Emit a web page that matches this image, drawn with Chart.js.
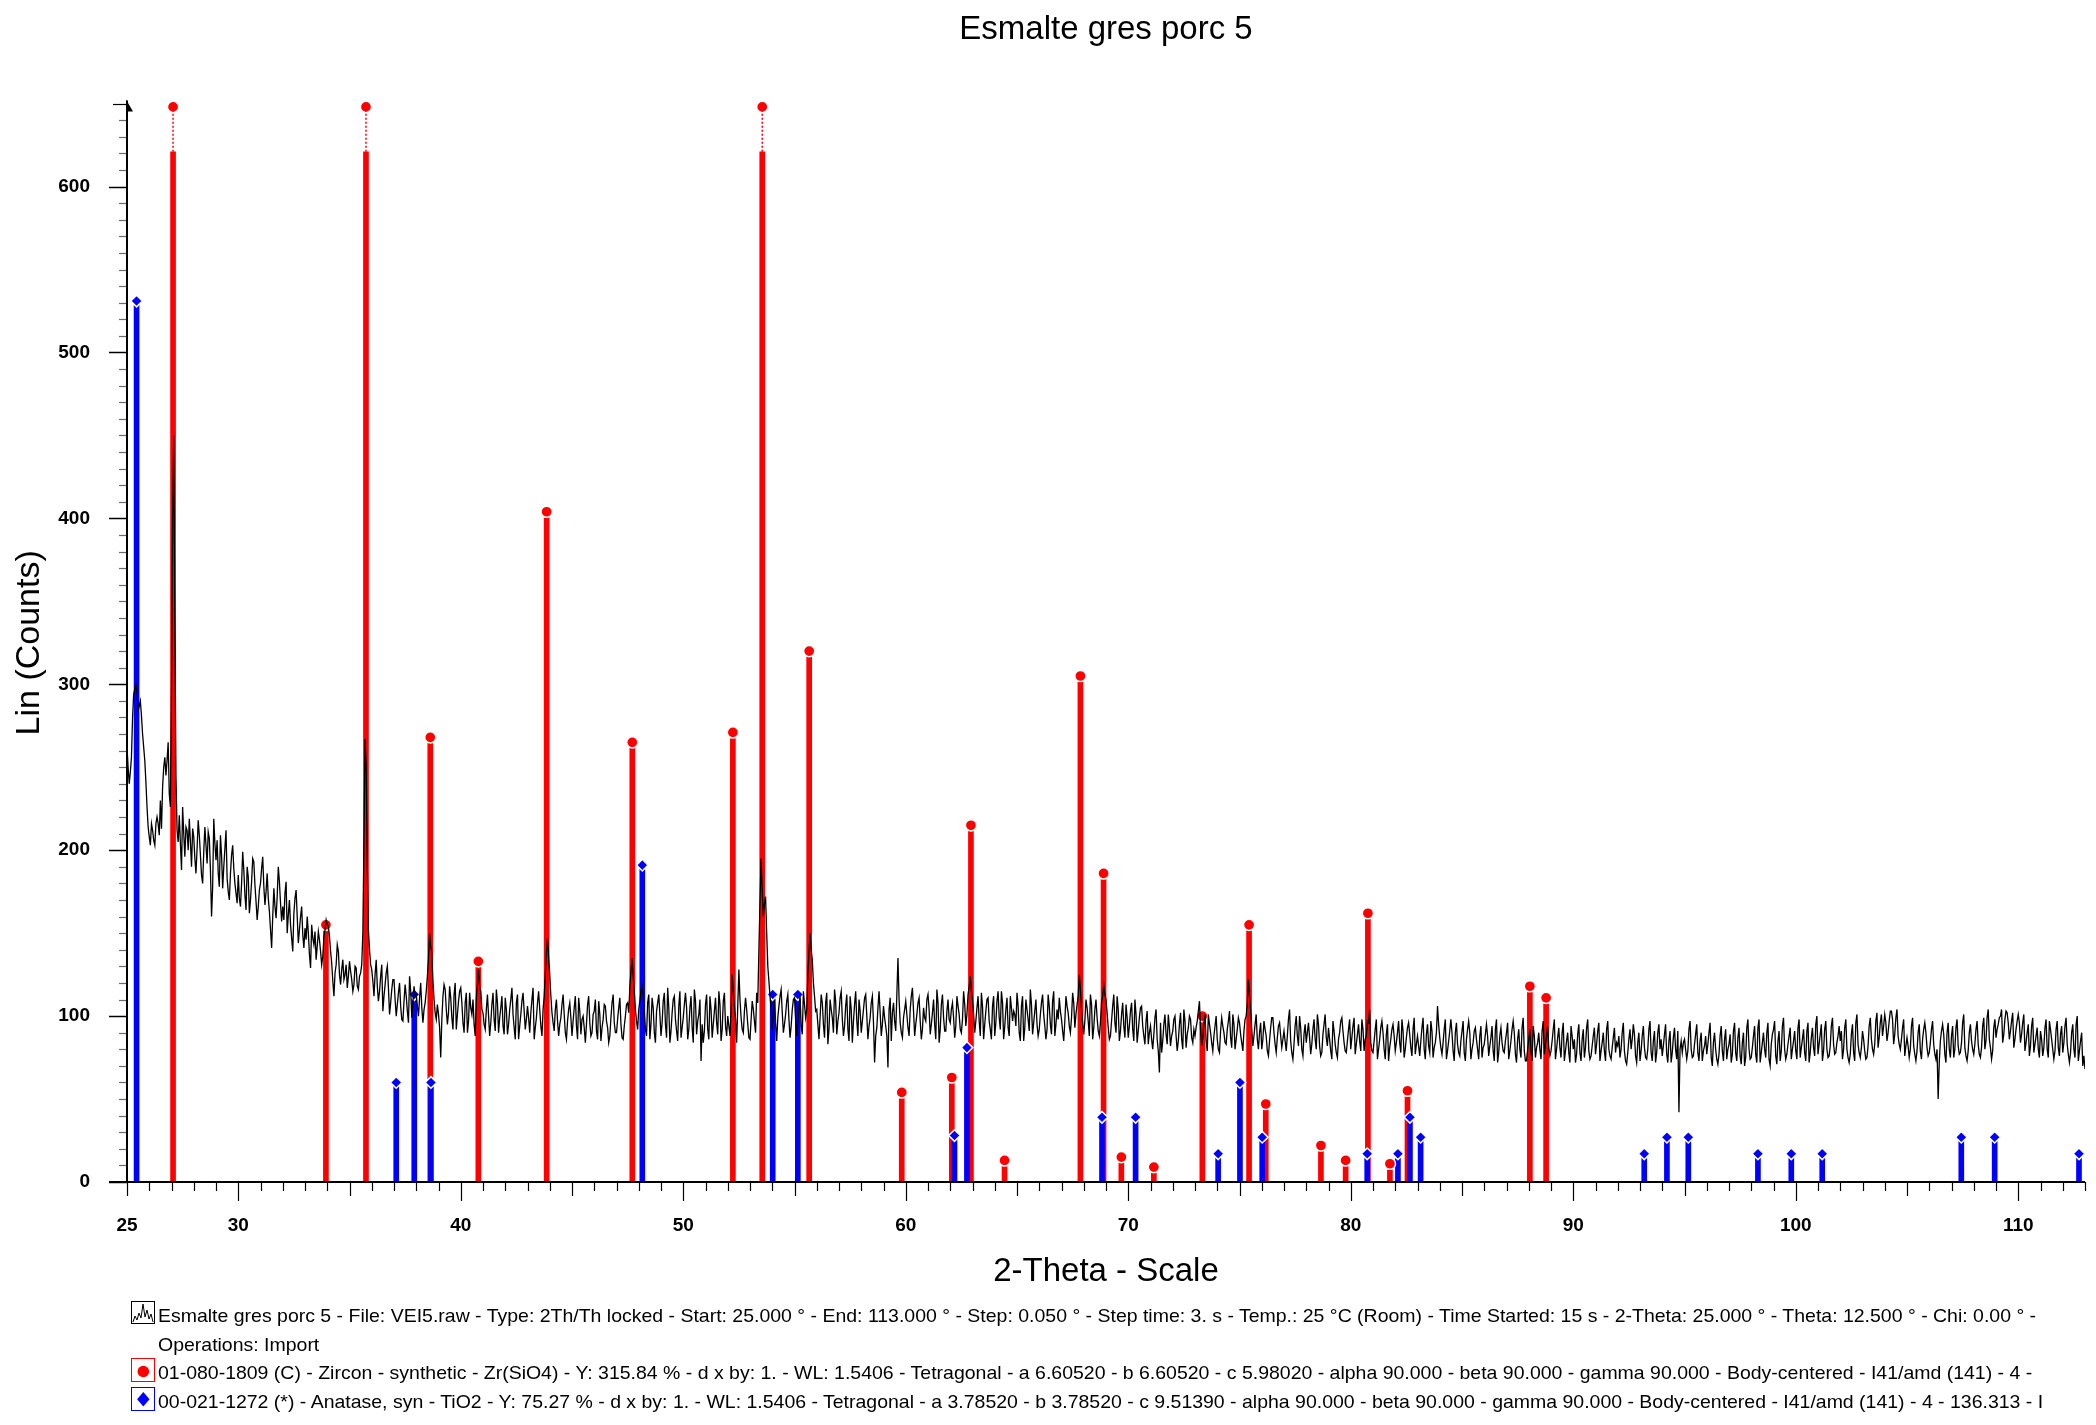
<!DOCTYPE html>
<html>
<head>
<meta charset="utf-8">
<title>Esmalte gres porc 5</title>
<script src="https://cdn.jsdelivr.net/npm/chart.js@4.4.1/dist/chart.umd.min.js"></script>
<style>
  html, body { margin: 0; padding: 0; background: #fff; }
  #wrap { position: relative; width: 2096px; height: 1425px; overflow: hidden; }
  #cw { position: absolute; left: 0; top: 0; width: 2096px; height: 1425px; }
  .leg { position: absolute; left: 158px; white-space: nowrap; font-family: "Liberation Sans", Arial, sans-serif;
         font-size: 19px; line-height: 24px; color: #000; transform-origin: 0 50%; }
  .ico { position: absolute; }
</style>
</head>
<body>
<div id="wrap">
  <div id="cw"><canvas id="c"></canvas></div>

  <svg class="ico" style="left:131px;top:1301px" width="25" height="24" viewBox="0 0 25 24">
    <rect x="0.5" y="0.5" width="23" height="22" fill="#fff" stroke="#000" stroke-width="1"/>
    <polyline points="2,21 4,15 6,19 8,12 10,17 12,3 14,16 16,9 18,18 20,13 22,21" fill="none" stroke="#000" stroke-width="1"/>
  </svg>
  <svg class="ico" style="left:131px;top:1358px" width="25" height="25" viewBox="0 0 25 25">
    <rect x="0.5" y="0.5" width="23" height="23" fill="#fff" stroke="#ff0000" stroke-width="1"/>
    <circle cx="12.3" cy="13.5" r="5.8" fill="#ff0000"/>
  </svg>
  <svg class="ico" style="left:131px;top:1387px" width="25" height="25" viewBox="0 0 25 25">
    <rect x="0.5" y="0.5" width="23" height="23" fill="#fff" stroke="#0000ff" stroke-width="1"/>
    <polygon points="12.3,5 18.5,12.3 12.3,19.6 6.1,12.3" fill="#0000ff"/>
  </svg>

  <div class="leg" id="l1" style="top:1304px">Esmalte gres porc 5 - File: VEI5.raw - Type: 2Th/Th locked - Start: 25.000 ° - End: 113.000 ° - Step: 0.050 ° - Step time: 3. s - Temp.: 25 °C (Room) - Time Started: 15 s - 2-Theta: 25.000 ° - Theta: 12.500 ° - Chi: 0.00 ° -</div>
  <div class="leg" id="l2" style="top:1333px">Operations: Import</div>
  <div class="leg" id="l3" style="top:1361px">01-080-1809 (C) - Zircon - synthetic - Zr(SiO4) - Y: 315.84 % - d x by: 1. - WL: 1.5406 - Tetragonal - a 6.60520 - b 6.60520 - c 5.98020 - alpha 90.000 - beta 90.000 - gamma 90.000 - Body-centered - I41/amd (141) - 4 -</div>
  <div class="leg" id="l4" style="top:1390px">00-021-1272 (*) - Anatase, syn - TiO2 - Y: 75.27 % - d x by: 1. - WL: 1.5406 - Tetragonal - a 3.78520 - b 3.78520 - c 9.51390 - alpha 90.000 - beta 90.000 - gamma 90.000 - Body-centered - I41/amd (141) - 4 - 136.313 - I</div>
</div>

<script>
// ---------------- DATA ----------------
const scanStart = 25.0;
const scanStep = 0.05;
const counts = [
  262,250,240,247,256,280,294,297,300,296, 284,287,290,281,270,262,254,241,226,214, // 25
  208,203,216,212,206,203,216,220,216,209, 230,213,238,250,256,245,254,265,234,226, // 26
  295,400,450,340,245,212,205,221,204,188, 226,210,196,214,212,200,219,205,190,213, // 27
  208,195,186,201,218,209,197,185,180,199, 214,203,192,211,207,188,160,178,219,204, // 28
  194,206,186,178,209,197,177,190,201,212, 183,175,170,186,197,203,189,180,174,168, // 29
  185,171,166,180,199,188,173,164,190,184, 162,170,181,195,193,179,169,158,166,176, // 30
  180,189,196,178,167,175,186,171,163,152, 141,160,177,166,159,172,190,181,168,157, // 31
  166,158,174,181,150,161,170,155,147,139, 162,171,176,160,144,152,160,166,149,141, // 32
  153,146,160,150,137,129,155,147,143,151, 134,142,151,146,139,131,136,148,152,158, // 33
  155,154,148,139,132,121,112,126,131,143, 139,125,119,128,134,122,125,131,117,124, // 34
  133,127,122,115,119,130,129,118,116,124, 126,131,150,205,267,250,190,152,140,131, // 35
  128,121,112,125,134,118,109,115,124,131, 103,112,119,126,130,117,101,108,116,122, // 36
  122,110,100,107,114,120,106,98,97,109,   119,112,103,96,124,115,99,108,118,112,   // 37
  113,106,100,111,120,105,96,104,108,115,  124,135,150,142,138,121,110,102,98,107,  // 38
  101,93,75,98,112,119,116,104,95,102,     118,111,99,92,113,120,92,101,109,115,    // 39
  117,108,96,90,108,114,90,97,114,105,     101,110,95,88,111,119,128,117,115,104,   // 40
  102,95,92,104,113,100,88,96,107,114,     98,91,116,108,90,99,105,112,94,89,       // 41
  111,104,89,95,104,110,117,101,93,86,     108,113,86,94,101,109,114,103,92,98,     // 42
  106,99,90,102,110,117,86,93,99,108,      115,104,94,88,104,112,125,138,147,135,   // 43
  125,112,102,96,91,104,110,97,88,95,      99,107,113,101,90,86,97,104,108,99,      // 44
  88,97,105,112,94,86,111,103,89,98,       100,93,84,95,107,112,96,88,90,101,       // 45
  103,110,91,86,109,101,85,93,98,107,      106,97,93,84,88,99,108,113,96,90,        // 46
  90,98,105,111,95,87,86,94,100,107,       108,102,118,127,135,124,115,104,97,92,   // 47
  104,109,115,118,112,103,92,88,108,113,   86,95,111,105,90,84,103,108,113,101,     // 48
  88,96,109,114,95,87,117,105,84,91,       102,110,112,98,91,85,106,115,87,93,      // 49
  99,107,114,105,86,92,105,112,93,84,      116,109,89,97,101,110,73,95,84,91,       // 50
  107,113,92,86,112,104,87,95,103,111,     96,89,115,107,85,92,109,114,94,88,       // 51
  100,94,88,104,125,114,106,98,84,106,     128,110,99,92,90,103,111,104,95,87,      // 52
  86,98,109,104,97,90,114,108,140,170,     195,175,160,168,172,150,130,121,112,105, // 53
  92,103,110,96,85,99,106,112,116,102,     90,95,101,109,113,98,87,94,104,110,      // 54
  111,98,88,97,105,112,94,89,115,107,      99,104,125,138,150,140,134,120,112,103,  // 55
  104,95,86,99,113,108,95,87,108,114,      83,92,110,104,99,90,116,109,89,97,       // 56
  102,111,115,98,88,94,106,113,92,85,      112,104,84,97,107,115,97,88,110,103,     // 57
  90,97,104,111,113,100,86,94,99,108,      112,96,72,88,93,105,115,102,88,95,       // 58
  106,99,94,88,69,104,111,85,102,108,      97,91,113,135,110,96,90,87,99,104,       // 59
  109,101,93,88,104,112,117,103,88,95,     101,108,111,97,86,92,105,99,97,110,      // 60
  113,104,89,95,102,110,95,86,116,108,     84,92,107,113,99,91,91,103,110,98,       // 61
  96,104,108,99,87,94,112,106,101,92,      90,98,115,107,94,101,113,118,124,115,    // 62
  110,101,90,97,105,112,97,88,114,106,     86,95,103,110,111,97,92,86,106,112,      // 63
  88,96,109,115,99,92,115,108,86,94,       104,111,93,88,112,105,97,103,101,94,     // 64
  114,106,90,85,106,112,85,93,110,104,     98,91,116,107,89,96,103,110,95,88,       // 65
  92,101,108,113,101,94,86,92,113,106,     95,89,109,115,88,95,104,98,111,103,      // 66
  98,91,85,97,112,106,102,94,90,99,        114,108,93,101,107,112,125,116,104,96,   // 67
  89,97,110,105,97,88,113,107,86,93,       104,110,99,91,88,96,108,112,119,113,     // 68
  110,102,93,86,88,97,106,113,96,90,       112,104,85,91,101,108,94,87,107,99,      // 69
  87,94,103,108,92,85,110,101,84,91,       99,105,106,94,88,83,97,103,83,90,        // 70
  94,86,80,89,99,104,86,79,66,96,          78,85,95,101,89,83,101,93,82,88,         // 71
  91,98,100,88,79,85,95,102,86,80,         104,97,81,89,93,100,98,87,84,92,         // 72
  88,93,97,103,109,92,82,87,96,101,        85,79,101,95,90,84,79,88,94,100,         // 73
  86,80,78,91,99,94,90,84,83,92,           97,103,87,81,101,95,80,86,92,99,         // 74
  96,89,84,79,91,98,100,108,122,112,       104,92,82,88,95,101,86,80,90,96,         // 75
  80,86,97,92,88,79,76,85,93,99,           99,90,83,78,87,94,96,88,81,86,           // 76
  91,85,79,88,98,104,85,78,74,83,          94,100,88,82,100,93,80,76,89,95,         // 77
  84,90,96,87,77,83,92,98,86,80,           101,95,82,76,78,89,95,101,87,82,         // 78
  93,86,79,74,97,91,83,78,75,86,           90,97,99,91,84,79,78,85,92,98,           // 79
  80,87,94,99,77,83,89,95,85,79,           98,92,79,86,88,97,96,104,84,79,          // 80
  78,85,92,98,74,80,86,93,97,90,           80,74,89,95,73,81,86,92,95,88,           // 81
  79,84,90,97,84,78,98,91,75,80,           87,93,96,89,81,76,92,99,77,83,           // 82
  88,82,76,85,93,99,80,74,89,95,           82,78,97,91,75,81,84,90,106,95,          // 83
  87,81,77,84,92,98,74,79,85,91,           98,90,79,73,90,96,83,78,76,85,           // 84
  91,97,78,73,86,92,97,90,74,80,           84,91,93,86,80,74,88,94,75,81,           // 85
  83,89,95,88,76,82,87,94,79,73,           92,98,72,78,88,93,84,79,78,85,           // 86
  90,96,74,79,85,92,97,90,77,72,           86,92,80,75,93,99,79,73,73,80,           // 87
  86,92,78,73,94,88,75,81,84,90,           80,74,91,97,77,83,88,94,81,76,           // 88
  79,85,92,98,74,80,87,93,81,75,           90,96,73,79,85,90,78,72,94,88,           // 89
  80,86,72,77,89,95,78,73,86,92,           75,81,93,98,79,74,76,82,88,93,           // 90
  77,83,91,96,73,79,84,90,79,73,           92,97,80,76,74,81,87,93,78,84,           // 91
  82,88,75,80,90,96,79,73,71,78,           86,92,80,86,95,89,76,72,84,90,           // 92
  73,79,88,94,81,75,74,80,92,97,           78,73,85,91,72,78,90,95,80,86,           // 93
  76,82,89,95,77,72,85,91,72,78,           87,93,80,74,91,42,80,85,78,84,           // 94
  86,80,74,79,92,97,80,75,76,83,           89,95,78,73,85,90,73,79,82,88,           // 95
  77,83,90,96,75,70,84,90,80,74,           71,77,88,94,79,73,86,92,74,80,           // 96
  83,89,72,77,91,96,78,73,87,93,           76,71,84,90,70,75,93,98,80,74,           // 97
  75,81,88,94,77,72,93,98,72,78,           84,90,80,75,90,96,74,70,83,89,           // 98
  92,97,76,71,85,91,73,79,94,99,           80,74,77,83,88,93,74,80,85,91,           // 99
  79,74,93,98,75,81,86,92,78,73,           91,96,72,78,87,93,81,76,95,100,          // 100
  77,83,89,95,73,79,92,97,80,75,           76,82,94,99,83,77,78,84,88,94,           // 101
  85,91,74,80,93,98,80,75,72,77,           89,95,78,73,96,101,83,78,75,81,          // 102
  91,86,79,74,75,82,94,99,86,80,           77,83,97,102,81,87,96,101,88,94,         // 103
  101,96,85,90,97,103,103,98,83,89,        99,104,88,83,80,86,93,98,76,82,          // 104
  87,82,75,80,94,99,82,77,73,79,           90,95,79,74,86,92,96,90,81,76,           // 105
  78,84,92,97,83,77,74,80,50,72,           85,91,95,89,77,72,90,96,80,75,           // 106
  88,94,75,80,93,98,82,77,78,84,           96,101,81,76,73,79,90,95,85,80,          // 107
  77,83,92,97,83,77,75,81,94,99,           80,85,99,104,86,81,74,79,93,98,          // 108
  87,92,95,99,100,104,84,89,98,103,        102,96,86,91,97,102,81,86,92,97,         // 109
  101,96,84,89,96,101,79,84,90,95,         76,82,94,99,78,83,88,93,80,75,           // 110
  91,86,76,81,93,98,80,75,97,92,           86,80,74,79,92,97,81,76,89,94,           // 111
  78,84,94,99,83,77,72,78,90,95,           80,75,95,100,73,79,85,90,70,76,          // 112
  68                                                                                 // 113
];

// 01-080-1809 Zircon reference sticks (2-theta, scaled intensity)
const zirconPos = [27.07, 33.94, 35.74, 38.63, 40.79, 43.86, 47.71, 52.23, 53.55, 55.66,
                   59.82, 62.07, 62.93, 64.44, 67.85, 68.89, 69.69, 71.15, 73.33, 75.43,
                   76.18, 78.66, 79.77, 80.77, 81.76, 82.55, 88.05, 88.78];
const zirconInt = [2800, 155, 1300, 268, 133, 404, 265, 271, 1150, 320,
                   54, 63, 215, 13, 305, 186, 15, 9, 100, 155,
                   47, 22, 13, 162, 11, 55, 118, 111];

// 00-021-1272 Anatase reference sticks
const anatasePos = [25.43, 37.10, 37.91, 38.66, 48.16, 54.02, 55.15, 62.19, 62.75, 68.82,
                    70.33, 74.04, 75.02, 76.02, 80.74, 82.12, 82.66, 83.14, 93.19, 94.21,
                    95.17, 98.30, 99.80, 101.19, 107.44, 108.94, 112.73];
const anataseInt = [531, 60, 113, 60, 191, 113, 113, 28, 81, 39,
                    39, 17, 60, 27, 17, 17, 39, 27, 17, 27,
                    27, 17, 17, 17, 27, 27, 17];

// axis tick labels
const xTickLabels = [25, 30, 40, 50, 60, 70, 80, 90, 100, 110];
const yTickLabels = [0, 100, 200, 300, 400, 500, 600];

const X_MIN = 25, X_MAX = 113, Y_MAX = 650;
const CLIP_SOLID = 621;   // where a stick that exceeds the axis is cut
const CLIP_MARK = 648;    // where its marker is parked

// ---------------- BUILD ----------------
const traceData = counts.map((c, i) => ({ x: +(scanStart + i * scanStep).toFixed(2), y: c }));
const bars = (pos, ints) => pos.map((p, i) => ({ x: p, y: ints[i] > Y_MAX ? CLIP_SOLID : ints[i] }));
const marks = (pos, ints) => pos.map((p, i) => ({ x: p, y: ints[i] > Y_MAX ? CLIP_MARK : ints[i] }));
const clipSegs = [];
zirconPos.forEach((p, i) => {
  if (zirconInt[i] > Y_MAX) clipSegs.push({ x: p, y: CLIP_SOLID }, { x: p, y: CLIP_MARK }, { x: p, y: null });
});

const FONT = "'Liberation Sans', Arial, Helvetica, sans-serif";

const axesPlugin = {
  id: 'xrdAxes',
  afterDraw(chart) {
    const { ctx, scales: { x, y } } = chart;
    const x0 = x.getPixelForValue(X_MIN), x1 = x.getPixelForValue(X_MAX);
    const y0 = y.getPixelForValue(0), yT = y.getPixelForValue(Y_MAX);
    ctx.save();
    ctx.lineCap = 'butt';
    for (let v = 0; v <= Y_MAX; v += 10) {
      const p = Math.round(y.getPixelForValue(v)) + 0.5;
      const major = v % 100 === 0;
      const len = major ? 18 : (v === Y_MAX ? 14 : 8);
      ctx.strokeStyle = major || v === Y_MAX ? '#000' : '#6a6a6a';
      ctx.lineWidth = major ? 1.5 : 1.2;
      ctx.beginPath(); ctx.moveTo(x0 - len, p); ctx.lineTo(x0, p); ctx.stroke();
    }
    ctx.strokeStyle = '#000';
    for (let v = X_MIN; v <= X_MAX; v += 1) {
      const p = Math.round(x.getPixelForValue(v)) + 0.5;
      const len = v % 10 === 0 ? 19 : (v % 5 === 0 ? 14 : 9);
      ctx.lineWidth = 1.2;
      ctx.beginPath(); ctx.moveTo(p, y0); ctx.lineTo(p, y0 + len); ctx.stroke();
    }
    ctx.lineWidth = 2;
    ctx.strokeStyle = '#000';
    ctx.beginPath(); ctx.moveTo(x0, y0 + 1); ctx.lineTo(x0, yT - 3); ctx.stroke();
    ctx.beginPath(); ctx.moveTo(x0 - 18, y0); ctx.lineTo(x1, y0); ctx.stroke();
    ctx.fillStyle = '#000';
    ctx.beginPath();
    ctx.moveTo(x0 - 1, yT - 4);
    ctx.lineTo(x0 + 6, yT + 8);
    ctx.lineTo(x0 - 1, yT + 8);
    ctx.closePath(); ctx.fill();
    ctx.restore();
  }
};

new Chart(document.getElementById('c'), {
  type: 'line',
  data: {
    datasets: [
      { type: 'line', label: 'Esmalte gres porc 5', data: traceData, borderColor: '#000', borderWidth: 1.3,
        pointRadius: 0, tension: 0, order: 0 },
      { type: 'line', label: 'clip', data: clipSegs, borderColor: '#ff0000', borderWidth: 1.5, borderDash: [2, 2],
        pointRadius: 0, spanGaps: false, order: 1, clip: false },
      { type: 'line', label: 'Anatase marks', data: marks(anatasePos, anataseInt), showLine: false,
        pointStyle: 'rectRot', pointRadius: 5.8, pointBackgroundColor: '#0000ff', pointBorderColor: '#fff',
        pointBorderWidth: 1.5, order: 2, clip: false },
      { type: 'line', label: 'Zircon marks', data: marks(zirconPos, zirconInt), showLine: false,
        pointStyle: 'circle', pointRadius: 5.6, pointBackgroundColor: '#ff0000', pointBorderColor: '#fff',
        pointBorderWidth: 1.5, order: 3, clip: false },
      { type: 'bar', label: 'Anatase', data: bars(anatasePos, anataseInt), backgroundColor: '#0000ff',
        barThickness: 5, grouped: false, order: 4 },
      { type: 'bar', label: 'Zircon', data: bars(zirconPos, zirconInt), backgroundColor: '#ff0000',
        barThickness: 5, grouped: false, order: 5 }
    ]
  },
  options: {
    responsive: true,
    maintainAspectRatio: false,
    animation: false,
    events: [],
    layout: { padding: { left: 0, right: 11, top: 0, bottom: 125 } },
    plugins: {
      legend: { display: false },
      tooltip: { enabled: false },
      title: {
        display: true, text: 'Esmalte gres porc 5', fullSize: false, color: '#000',
        font: { family: FONT, size: 33, weight: 'normal' },
        padding: { top: 10, bottom: 54 }
      }
    },
    scales: {
      x: {
        type: 'linear', min: X_MIN, max: X_MAX, offset: false,
        grid: { display: false, drawTicks: false },
        border: { display: false },
        afterBuildTicks: (s) => { s.ticks = xTickLabels.map(v => ({ value: v })); },
        ticks: { autoSkip: false, maxRotation: 0, padding: 32, color: '#000',
                 font: { family: FONT, size: 19, weight: 'bold' } },
        title: { display: true, text: '2-Theta - Scale', color: '#000',
                 font: { family: FONT, size: 33, weight: 'normal' }, padding: { top: 0, bottom: 8 } },
        afterFit: (s) => { s.height = 118; }
      },
      y: {
        type: 'linear', min: 0, max: Y_MAX,
        grid: { display: false, drawTicks: false },
        border: { display: false },
        afterBuildTicks: (s) => { s.ticks = yTickLabels.map(v => ({ value: v })); },
        ticks: { padding: 37, color: '#000', font: { family: FONT, size: 19, weight: 'bold' } },
        title: { display: true, text: 'Lin (Counts)', color: '#000',
                 font: { family: FONT, size: 34, weight: 'normal' }, padding: { top: 9, bottom: 0 } },
        afterFit: (s) => { s.width = 127; }
      }
    }
  },
  plugins: [axesPlugin]
});

(function () {
  const l1 = document.getElementById('l1');
  const w = l1.getBoundingClientRect().width;
  let k = (2036 - 158) / w;
  if (!(k > 0.8 && k < 1.25)) k = 1;
  ['l1', 'l2', 'l3', 'l4'].forEach(id => { document.getElementById(id).style.transform = 'scaleX(' + k.toFixed(4) + ')'; });
})();
</script>
</body>
</html>
